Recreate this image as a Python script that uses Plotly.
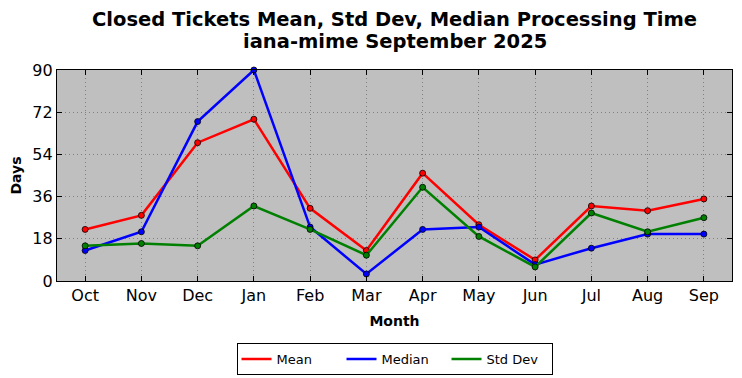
import plotly.graph_objects as go

months = ["Oct", "Nov", "Dec", "Jan", "Feb", "Mar", "Apr", "May", "Jun", "Jul", "Aug", "Sep"]
mean_vals = [22, 28, 59, 69, 31, 13, 46, 24, 9, 32, 30, 35]
median_vals = [13, 21, 68, 90, 23, 3, 22, 23, 7, 14, 20, 20]
std_vals = [15, 16, 15, 32, 22, 11, 40, 19, 6, 29, 21, 27]
y_ticks = [0, 18, 36, 54, 72, 90]

series = [("Mean", mean_vals, "#ff0000"), ("Median", median_vals, "#0000ff"), ("Std Dev", std_vals, "#008000")]

fig = go.Figure()
for name, vals, col in series:
    fig.add_trace(go.Scatter(
        x=list(range(len(months))), y=vals, mode="lines+markers", name=name,
        line=dict(color=col, width=2.5),
        marker=dict(size=6, color=col, line=dict(color="black", width=0.8)),
        showlegend=False, legendgroup=name, cliponaxis=False,
    ))
for name, vals, col in series:
    fig.add_trace(go.Scatter(
        x=[None], y=[None], mode="lines", name=name,
        line=dict(color=col, width=2.5), legendgroup=name,
    ))

axis_common = dict(
    showline=True, linecolor="black", linewidth=1.2, mirror="ticks",
    ticks="inside", ticklen=5, tickcolor="black",
    showgrid=True, gridcolor="#7f7f7f", griddash="1px,3px", gridwidth=1,
    zeroline=False, automargin=False,
    tickfont=dict(family="DejaVu Sans", size=16, color="black"),
)

fig.update_layout(
    width=742, height=378,
    margin=dict(l=49, r=18, t=62, b=105, autoexpand=False),
    paper_bgcolor="white", plot_bgcolor="#bfbfbf",
    font=dict(family="DejaVu Sans", color="black"),
    title=dict(
        text="<b>Closed Tickets Mean, Std Dev, Median Processing Time</b>",
        x=0.5, xref="paper", xanchor="center", yref="container", y=0.971, yanchor="middle",
        font=dict(family="DejaVu Sans", size=19.5, color="black"),
    ),
    annotations=[dict(
        text="<b>iana-mime September 2025</b>", xref="paper", yref="paper",
        x=0.5, y=1.137, xanchor="center", yanchor="middle", showarrow=False,
        font=dict(family="DejaVu Sans", size=19.5, color="black"),
    )],
    xaxis=dict(
        **axis_common,
        tickmode="array", tickvals=list(range(len(months))), ticktext=months,
        range=[-0.5, 11.5],
        title=dict(text="<b>Month</b>", font=dict(size=14, family="DejaVu Sans"), standoff=11),
    ),
    yaxis=dict(
        **axis_common,
        tickmode="array", tickvals=y_ticks, range=[0, 90],
        title=dict(text="<b>Days</b>", font=dict(size=14, family="DejaVu Sans"), standoff=9),
    ),
    legend=dict(
        orientation="h", x=0.5, xanchor="center", y=-0.294, yanchor="top",
        bordercolor="black", borderwidth=1, bgcolor="white",
        font=dict(family="DejaVu Sans", size=13, color="black"),
        entrywidth=60, itemwidth=30, tracegroupgap=0,
    ),
)

fig.write_html("out.html")
